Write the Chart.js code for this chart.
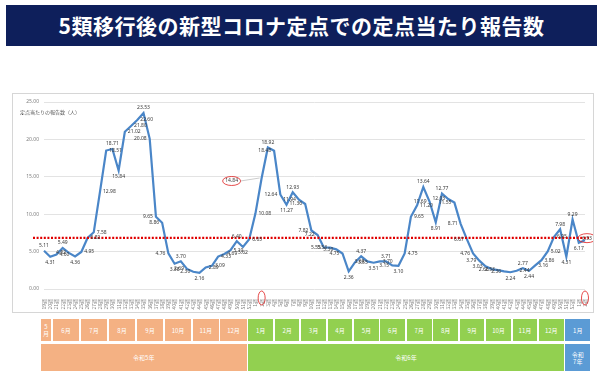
<!DOCTYPE html>
<html>
<head>
<meta charset="utf-8">
<script src="https://cdn.jsdelivr.net/npm/chart.js@4.4.1/dist/chart.umd.min.js"></script>
<style>
  body { margin: 0; width: 603px; height: 375px; background: #fff; position: relative; overflow: hidden;
         font-family: "Noto Sans CJK JP", "Noto Sans", sans-serif; }
  #title { position: absolute; left: 6px; top: 5px; width: 591px; height: 41px; background: #0e1f5b;
           color: #fff; font-weight: bold; font-size: 21px; line-height: 41px; text-align: center; letter-spacing: 0.5px; }
  #box { position: absolute; left: 12px; top: 93px; width: 580px; height: 218px; border: 1px solid #d6d6d6; }
  #box canvas { position: absolute; left: 0; top: 0; }
  .cell { position: absolute; color: #fff; font-size: 6px; line-height: 7px; display: flex;
          align-items: center; justify-content: center; text-align: center; }
</style>
</head>
<body>
<div id="title">5類移行後の新型コロナ定点での定点当たり報告数</div>
<div id="box"><canvas id="chart" width="580" height="218"></canvas></div>
<div id="months"></div>

<script>
// week labels (令和5年19週 〜 令和7年2週)
const weekLabels = ('19週 20週 21週 22週 23週 24週 25週 26週 27週 28週 29週 30週 31週 32週 33週 34週 35週 36週 37週 38週 39週 40週 41週 42週 43週 44週 45週 46週 47週 48週 49週 50週 51週 52週 ' +
  '1週 2週 3週 4週 5週 6週 7週 8週 9週 10週 11週 12週 13週 14週 15週 16週 17週 18週 19週 20週 21週 22週 23週 24週 25週 26週 ' +
  '27週 28週 29週 30週 31週 32週 33週 34週 35週 36週 37週 38週 39週 40週 41週 42週 43週 44週 45週 46週 47週 48週 49週 50週 51週 52週 ' +
  '1週 2週').split(' ');

const counts2023 = [5.11, 4.31, 4.60, 5.49, 4.82, 4.36, 4.95, 6.82, 7.58, 12.98,
  18.51, 18.71, 15.84, 21.02, 21.80, 22.60, 23.53, 20.08, 9.65, 8.86,
  4.76, 3.38, 3.70, 2.69, 2.30, 2.16, 2.89, 3.09, 4.33, 4.69,
  5.19, 6.40, 5.62, 6.65];
const counts2024 = [10.08, 14.84, 18.92, 18.48, 12.64, 11.27, 12.93, 11.94, 11.36, 7.82,
  7.22, 5.55, 5.53, 5.30, 4.75, 2.36, 3.55, 4.37, 3.69, 3.51,
  3.70, 3.71, 3.15, 3.10, 4.75, 9.65, 11.20, 13.64, 11.69, 8.91,
  12.77, 12.03, 11.55, 8.71, 6.67, 4.76, 3.79, 3.03, 2.66, 2.53,
  2.36, 2.24, 2.44, 2.77, 2.44, 3.16, 3.86, 5.02, 6.95, 7.98,
  4.31, 9.29];
const counts2025 = [6.17, 6.53];
const reportCounts = counts2023.concat(counts2024, counts2025);

const yTicks = [0, 5, 10, 15, 20, 25];
const refLevel = 6.84;          // red dotted line
const circled = [35, 87];       // 令和6年2週 and 令和7年2週

const monthLabels = ['5月', '6月', '7月', '8月', '9月', '10月', '11月', '12月',
  '1月', '2月', '3月', '4月', '5月', '6月', '7月', '8月', '9月', '10月', '11月', '12月', '1月'];
const eraLabels = ['令和5年', '令和6年', '令和7年'];

// month bar layout (page pixels)
const monthEdges = [40, 52, 80, 108, 136, 164, 192, 219.5, 247.5, 273.9, 300.3, 326.8, 353.2, 379.6,
  406, 432.4, 458.9, 485.3, 511.7, 538.1, 564.5, 591];
const eraSpans = [[0, 8], [8, 20], [20, 21]];
const eraColors = ['#f4b183', '#92d050', '#5b9bd5'];

function eraOf(i) { return i < 8 ? 0 : (i < 20 ? 1 : 2); }

const bar = document.getElementById('months');
monthLabels.forEach((m, i) => {
  const d = document.createElement('div');
  d.className = 'cell';
  d.style.left = (monthEdges[i] + 0.8) + 'px';
  d.style.width = (monthEdges[i + 1] - monthEdges[i] - 1.6) + 'px';
  d.style.top = '319px';
  d.style.height = '22px';
  d.style.background = eraColors[eraOf(i)];
  d.innerHTML = i === 0 ? '5<br>月' : m;
  bar.appendChild(d);
});
eraLabels.forEach((e, k) => {
  const [a, b] = eraSpans[k];
  const d = document.createElement('div');
  d.className = 'cell';
  d.style.left = (monthEdges[a] + 0.8) + 'px';
  d.style.width = (monthEdges[b] - monthEdges[a] - 1.6) + 'px';
  d.style.top = '344px';
  d.style.height = '27px';
  d.style.background = eraColors[k];
  d.innerHTML = k === 2 ? '令和<br>7年' : e;
  bar.appendChild(d);
});

const extras = {
  id: 'extras',
  afterDatasetsDraw(chart) {
    const ctx = chart.ctx;
    const x = chart.scales.x, y = chart.scales.y;
    const area = chart.chartArea;
    const pts = chart.getDatasetMeta(0).data;
    ctx.save();

    // y axis title
    ctx.font = '5px "Noto Sans CJK JP"';
    ctx.fillStyle = '#595959';
    ctx.textAlign = 'left';
    ctx.textBaseline = 'middle';
    ctx.fillText('定点当たりの報告数（人）', 7, 18);

    // red dotted line
    const ry = y.getPixelForValue(refLevel);
    ctx.strokeStyle = '#e00000';
    ctx.lineWidth = 2.2;
    ctx.setLineDash([2, 1.6]);
    ctx.beginPath();
    ctx.moveTo(area.left - 11, ry);
    ctx.lineTo(area.right + 4, ry);
    ctx.stroke();
    ctx.setLineDash([]);

    // value labels
    ctx.font = '5px "Noto Sans", sans-serif';
    ctx.fillStyle = '#3a3a3a';
    pts.forEach((p, i) => {
      if (circled.includes(i)) return;
      const v = reportCounts[i];
      const prev = i > 0 ? reportCounts[i - 1] : v;
      const next = i < reportCounts.length - 1 ? reportCounts[i + 1] : v;
      let lx = p.x, ly = p.y;
      if (v >= prev && v >= next) { ctx.textAlign = 'center'; ly -= 5; }
      else if (v <= prev && v <= next) { ctx.textAlign = 'center'; ly += 6; }
      else if (next > v) { ctx.textAlign = 'left'; lx += 3; }
      else { ctx.textAlign = 'right'; lx -= 3; }
      ctx.fillText(v.toFixed(2), lx, ly);
    });

    // circled labels and ticks
    ctx.strokeStyle = '#e02020';
    ctx.lineWidth = 0.8;
    circled.forEach((i, k) => {
      const p = pts[i];
      const txt = reportCounts[i].toFixed(2);
      let cx, cy;
      if (k === 0) { cx = p.x - 30; cy = p.y + 3; }
      else { cx = p.x + 2; cy = p.y - 2; }
      ctx.textAlign = 'center';
      ctx.fillStyle = '#3a3a3a';
      ctx.fillText(txt, cx, cy);
      ctx.beginPath();
      ctx.ellipse(cx, cy, 9, 4.5, 0, 0, Math.PI * 2);
      ctx.stroke();
      if (k === 0) {
        ctx.strokeStyle = '#bfbfbf';
        ctx.beginPath();
        ctx.moveTo(cx + 9, cy);
        ctx.lineTo(p.x - 2, p.y);
        ctx.stroke();
        ctx.strokeStyle = '#e02020';
      }
      ctx.beginPath();
      ctx.ellipse(x.getPixelForValue(i), area.bottom + 9, 3.5, 7, 0, 0, Math.PI * 2);
      ctx.stroke();
    });
    ctx.restore();
  }
};

new Chart(document.getElementById('chart'), {
  type: 'line',
  data: {
    labels: weekLabels,
    datasets: [{
      data: reportCounts,
      borderColor: '#4a86c8',
      borderWidth: 2.2,
      pointRadius: 0,
      tension: 0
    }]
  },
  options: {
    responsive: false,
    animation: false,
    devicePixelRatio: 1,
    layout: { padding: { top: 5, right: 7, left: 0, bottom: 0 } },
    plugins: { legend: { display: false }, tooltip: { enabled: false } },
    scales: {
      x: {
        grid: { display: false },
        border: { display: false },
        ticks: { autoSkip: false, minRotation: 90, maxRotation: 90, padding: 2,
                 font: { size: 5, family: 'Noto Sans CJK JP' }, color: '#7f7f7f' },
        afterFit(scale) { scale.height = 23; }
      },
      y: {
        min: 0, max: 25,
        afterBuildTicks(scale) { scale.ticks = yTicks.map(v => ({ value: v })); },
        grid: { color: '#e3e3e3', drawTicks: false },
        border: { display: false },
        ticks: { padding: 5, font: { size: 5, family: 'Noto Sans' }, color: '#7f7f7f',
                 callback: v => v.toFixed(2) },
        afterFit(scale) { scale.width = 31; }
      }
    }
  },
  plugins: [extras]
});
</script>
</body>
</html>
